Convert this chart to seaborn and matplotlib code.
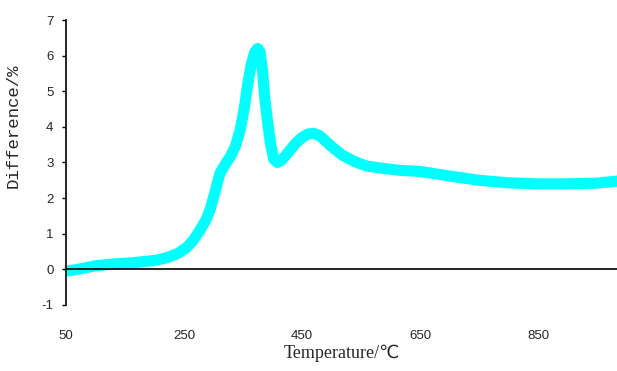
import numpy as np
import pandas as pd
import seaborn as sns
import matplotlib.pyplot as plt

# Values
temperature = [50, 70, 100, 130, 160, 200, 220, 240, 255, 265, 277, 286, 294, 303, 311, 320,
               328, 337, 345, 352, 358, 364, 370, 375, 379, 383, 387, 392, 397, 402, 408,
               414, 420, 430, 440, 450, 460, 470, 480, 490, 500, 519, 540, 560, 590, 616,
               650, 700, 750, 800, 850, 900, 950, 985]
difference = [-0.05, 0.0, 0.1, 0.15, 0.18, 0.25, 0.32, 0.45, 0.62, 0.8, 1.1, 1.35, 1.66, 2.2,
              2.7, 2.95, 3.15, 3.45, 3.9, 4.5, 5.2, 5.75, 6.1, 6.2, 6.1, 5.6, 4.8, 4.1, 3.5, 3.1, 3.0,
              3.05, 3.15, 3.35, 3.55, 3.7, 3.8, 3.82, 3.75, 3.6, 3.45, 3.2, 3.02, 2.9, 2.83, 2.78,
              2.75, 2.62, 2.5, 2.43, 2.4, 2.4, 2.42, 2.48]
x_ticks = [50, 250, 450, 650, 850]
y_ticks = [-1, 0, 1, 2, 3, 4, 5, 6, 7]

df = pd.DataFrame({'temperature': temperature, 'difference': difference})

sns.set_style('white')
plt.rcParams['font.family'] = ['DejaVu Sans', 'Noto Sans CJK SC']

fig = plt.figure(figsize=(6.17, 3.71), dpi=100)
ax = fig.add_axes([0.107, 0.178, 0.893, 0.768])

sns.lineplot(data=df, x='temperature', y='difference', ax=ax,
             color='#00FFFF', linewidth=8, solid_capstyle='butt')
ax.axhline(0, color='black', linewidth=1.2, zorder=3)

ax.set_xlim(50, 984)
ax.set_ylim(-1, 7)
ax.set_xticks(x_ticks)
ax.set_yticks(y_ticks)
ax.set_xticklabels([str(t) for t in x_ticks], fontsize=9.5, family='Liberation Sans')
ax.set_yticklabels([str(t) for t in y_ticks], fontsize=9.5, family='Liberation Sans')
ax.tick_params(axis='x', length=0, pad=18)
ax.tick_params(axis='y', direction='out', length=3, width=1, color='black', pad=6, left=True)

for s in ['top', 'right', 'bottom']:
    ax.spines[s].set_visible(False)
ax.spines['left'].set_color('black')
ax.spines['left'].set_linewidth(1.2)

ax.set_xlabel('Temperature/℃', fontsize=13, family=['Liberation Serif', 'DejaVu Sans'], labelpad=2)
ax.set_ylabel('Difference/%', fontsize=12.5, family='Liberation Mono')
ax.yaxis.set_label_coords(-0.083, 0.63)

fig.savefig('out.png', dpi=100)
